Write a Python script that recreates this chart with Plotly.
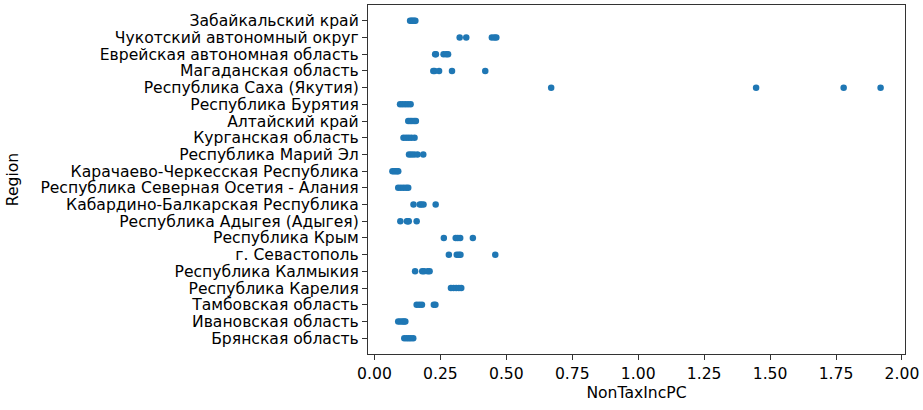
import plotly.graph_objects as go

# Regions, bottom to top
regions = [
    "Брянская область",
    "Ивановская область",
    "Тамбовская область",
    "Республика Карелия",
    "Республика Калмыкия",
    "г. Севастополь",
    "Республика Крым",
    "Республика Адыгея (Адыгея)",
    "Кабардино-Балкарская Республика",
    "Республика Северная Осетия - Алания",
    "Карачаево-Черкесская Республика",
    "Республика Марий Эл",
    "Курганская область",
    "Алтайский край",
    "Республика Бурятия",
    "Республика Саха (Якутия)",
    "Магаданская область",
    "Еврейская автономная область",
    "Чукотский автономный округ",
    "Забайкальский край",
]

values = [
    [0.113, 0.122, 0.130, 0.138, 0.147],   # Брянская
    [0.090, 0.098, 0.106, 0.112, 0.117],   # Ивановская
    [0.160, 0.170, 0.180, 0.225, 0.231],   # Тамбовская
    [0.290, 0.300, 0.310, 0.320, 0.329],   # Карелия
    [0.154, 0.181, 0.188, 0.202, 0.209],   # Калмыкия
    [0.282, 0.312, 0.320, 0.326, 0.458],   # Севастополь
    [0.263, 0.308, 0.316, 0.325, 0.373],   # Крым
    [0.098, 0.123, 0.127, 0.130, 0.160],   # Адыгея
    [0.148, 0.172, 0.178, 0.186, 0.232],   # Кабардино-Балкарская
    [0.090, 0.100, 0.110, 0.120, 0.128],   # Северная Осетия
    [0.068, 0.074, 0.080, 0.086, 0.090],   # Карачаево-Черкесская
    [0.131, 0.140, 0.150, 0.163, 0.185],   # Марий Эл
    [0.110, 0.120, 0.130, 0.140, 0.152],   # Курганская
    [0.128, 0.135, 0.142, 0.150, 0.157],   # Алтайский
    [0.097, 0.107, 0.117, 0.127, 0.137],   # Бурятия
    [0.670, 1.447, 1.779, 1.919],          # Саха
    [0.223, 0.228, 0.245, 0.294, 0.420],   # Магаданская
    [0.230, 0.233, 0.262, 0.272, 0.279],   # Еврейская
    [0.323, 0.348, 0.445, 0.455, 0.462],   # Чукотский
    [0.135, 0.140, 0.145, 0.150, 0.155],   # Забайкальский
]

x_ticks = [0, 0.25, 0.5, 0.75, 1.0, 1.25, 1.5, 1.75, 2.0]
x_ticktext = ["0.00", "0.25", "0.50", "0.75", "1.00", "1.25", "1.50", "1.75", "2.00"]

xs, ys = [], []
for r, vals in zip(regions, values):
    for v in vals:
        xs.append(v)
        ys.append(r)

allv = [v for vals in values for v in vals]
lo, hi = min(allv), max(allv)
pad = (hi - lo) * 0.05
n = len(regions)
ypad = (n - 1) * 0.05

font = dict(family="DejaVu Sans", size=15.6, color="#000000")

fig = go.Figure(go.Scatter(
    x=xs, y=ys, mode="markers",
    marker=dict(color="#1f77b4", size=6.5, line=dict(width=0)),
    showlegend=False,
))

fig.update_layout(
    width=923, height=410,
    margin=dict(l=368, r=16, t=4, b=56),
    paper_bgcolor="white", plot_bgcolor="white",
    font=font,
)
fig.update_xaxes(
    range=[lo - pad, hi + pad],
    tickmode="array", tickvals=x_ticks, ticktext=x_ticktext,
    ticks="outside", ticklen=5, tickcolor="#333333", tickwidth=1,
    showline=True, linecolor="#333333", linewidth=1.2, mirror=True,
    showgrid=False, zeroline=False,
    title=dict(text="NonTaxIncPC", font=font, standoff=5),
    tickfont=font,
)
fig.update_yaxes(
    type="category", categoryorder="array", categoryarray=regions,
    range=[-ypad, n - 1 + ypad],
    tickmode="linear", tick0=0, dtick=1,
    ticks="outside", ticklen=5, tickcolor="#333333", tickwidth=1,
    showline=True, linecolor="#333333", linewidth=1.2, mirror=True,
    showgrid=False, zeroline=False,
    title=dict(text="Region", font=font, standoff=17),
    tickfont=font,
)

fig.write_html(
    "out.html",
    config={"displayModeBar": False},
    post_script="document.body.style.margin='0';document.body.style.overflow='hidden';",
)
